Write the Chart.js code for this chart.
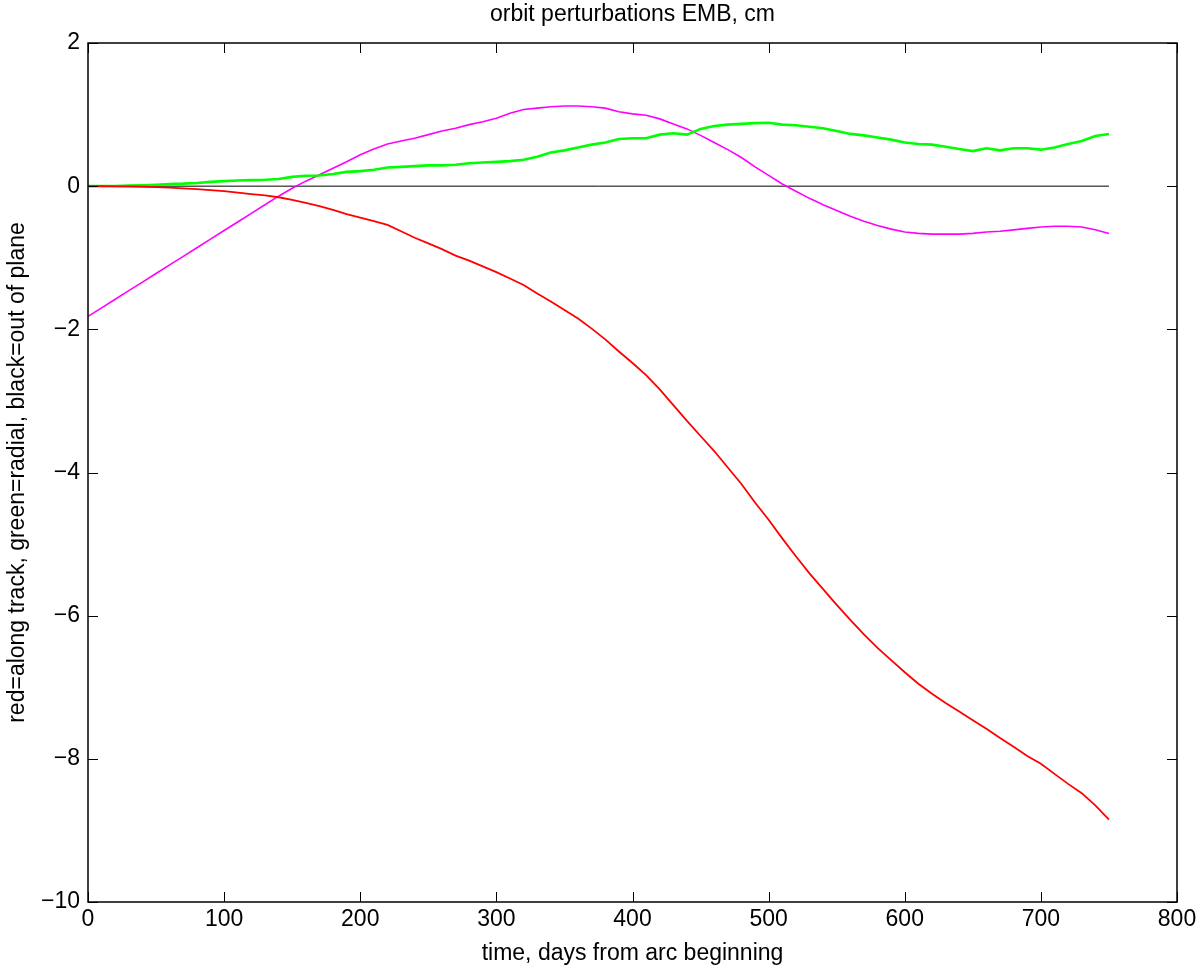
<!DOCTYPE html>
<html>
<head>
<meta charset="utf-8">
<script src="https://cdn.jsdelivr.net/npm/chart.js@4.4.1/dist/chart.umd.min.js"></script>
<style>
  html, body { margin: 0; padding: 0; background: #ffffff; }
  #c { display: block; }
</style>
</head>
<body>
<canvas id="c" width="1196" height="967"></canvas>
<script>
const chartTitle = 'orbit perturbations EMB, cm';
const xLabel = 'time, days from arc beginning';
const yLabel = 'red=along track, green=radial, black=out of plane';

const xTicks = [0, 100, 200, 300, 400, 500, 600, 700, 800];
const yTicks = [2, 0, -2, -4, -6, -8, -10];

const days = [0,10,20,30,40,50,60,70,80,90,100,110,120,130,140,150,160,170,180,190,
  200,210,220,230,240,250,260,270,280,290,300,310,320,330,340,350,360,370,380,390,
  400,410,420,430,440,450,460,470,480,490,500,510,520,530,540,550,560,570,580,590,
  600,610,620,630,640,650,660,670,680,690,700,710,720,730,740,750];

const alongTrack = [0,0,-0.003,-0.005,-0.008,-0.012,-0.02,-0.03,-0.04,-0.055,
  -0.07,-0.09,-0.11,-0.13,-0.155,-0.19,-0.235,-0.28,-0.33,-0.39,
  -0.44,-0.49,-0.54,-0.63,-0.72,-0.8,-0.88,-0.97,-1.04,-1.12,
  -1.2,-1.29,-1.38,-1.50,-1.61,-1.73,-1.85,-1.99,-2.14,-2.31,
  -2.47,-2.64,-2.84,-3.06,-3.28,-3.49,-3.70,-3.93,-4.16,-4.42,
  -4.66,-4.92,-5.17,-5.41,-5.63,-5.85,-6.06,-6.26,-6.45,-6.62,
  -6.79,-6.95,-7.09,-7.22,-7.34,-7.46,-7.58,-7.71,-7.83,-7.96,
  -8.07,-8.21,-8.35,-8.48,-8.65,-8.85];

const radial = [0,0,0.003,0.008,0.012,0.02,0.03,0.035,0.045,0.06,
  0.07,0.08,0.085,0.09,0.1,0.13,0.145,0.15,0.17,0.2,
  0.21,0.23,0.26,0.27,0.28,0.29,0.29,0.3,0.32,0.33,
  0.34,0.35,0.37,0.41,0.47,0.5,0.54,0.58,0.61,0.66,
  0.67,0.67,0.72,0.74,0.72,0.8,0.84,0.86,0.87,0.88,
  0.885,0.86,0.85,0.83,0.81,0.77,0.73,0.71,0.68,0.65,
  0.61,0.59,0.58,0.55,0.52,0.49,0.53,0.5,0.53,0.53,
  0.51,0.54,0.59,0.63,0.7,0.73];

const magenta = [-1.82,-1.70,-1.58,-1.46,-1.34,-1.22,-1.10,-0.98,-0.86,-0.74,
  -0.62,-0.50,-0.38,-0.26,-0.14,-0.03,0.07,0.16,0.25,0.34,
  0.44,0.52,0.59,0.63,0.67,0.72,0.77,0.81,0.86,0.90,
  0.95,1.02,1.07,1.09,1.11,1.12,1.12,1.11,1.09,1.04,
  1.01,0.99,0.94,0.87,0.80,0.71,0.61,0.51,0.40,0.27,
  0.15,0.03,-0.07,-0.17,-0.26,-0.34,-0.42,-0.49,-0.55,-0.60,
  -0.64,-0.66,-0.67,-0.67,-0.67,-0.66,-0.64,-0.63,-0.61,-0.59,
  -0.57,-0.56,-0.56,-0.57,-0.61,-0.66];

const outOfPlaneDays = [0, 750];
const outOfPlane = [0, 0];

function pts(xs, ys) { return xs.map((x, i) => ({ x: x, y: ys[i] })); }

const FONT = 'Liberation Sans, Arial, Helvetica, sans-serif';

const frame = {
  id: 'frame',
  afterDatasetsDraw(chart) {
    const ctx = chart.ctx, a = chart.chartArea;
    const xs = chart.scales.x, ys = chart.scales.y;
    const tl = 10;
    ctx.save();
    ctx.strokeStyle = '#000';
    ctx.lineWidth = 1.5;
    ctx.strokeRect(a.left, a.top, a.right - a.left, a.bottom - a.top);
    ctx.lineWidth = 1;
    ctx.beginPath();
    xTicks.forEach(v => {
      const p = Math.round(xs.getPixelForValue(v)) + 0.5;
      ctx.moveTo(p, a.bottom); ctx.lineTo(p, a.bottom - tl);
      ctx.moveTo(p, a.top); ctx.lineTo(p, a.top + tl);
    });
    yTicks.forEach(v => {
      const p = Math.round(ys.getPixelForValue(v)) + 0.5;
      ctx.moveTo(a.left, p); ctx.lineTo(a.left + tl, p);
      ctx.moveTo(a.right, p); ctx.lineTo(a.right - tl, p);
    });
    ctx.stroke();
    ctx.fillStyle = '#000';
    ctx.font = '23px ' + FONT;
    ctx.textAlign = 'center';
    ctx.textBaseline = 'middle';
    ctx.fillText(chartTitle, (a.left + a.right) / 2, 15);
    ctx.restore();
  }
};

new Chart(document.getElementById('c'), {
  type: 'line',
  data: {
    datasets: [
      { label: 'along track', data: pts(days, alongTrack), borderColor: '#ff0000', borderWidth: 1.8 },
      { label: 'radial', data: pts(days, radial), borderColor: '#00ff00', borderWidth: 2.6 },
      { label: 'magenta', data: pts(days, magenta), borderColor: '#ff00ff', borderWidth: 1.6 },
      { label: 'out of plane', data: pts(outOfPlaneDays, outOfPlane), borderColor: '#000000', borderWidth: 1 }
    ]
  },
  options: {
    responsive: false,
    animation: false,
    devicePixelRatio: 1,
    layout: { padding: { top: 43, right: 19, left: 0, bottom: 0 } },
    elements: { point: { radius: 0 }, line: { tension: 0 } },
    plugins: { legend: { display: false }, tooltip: { enabled: false }, title: { display: false } },
    scales: {
      x: {
        type: 'linear', min: 0, max: 800,
        afterBuildTicks: s => { s.ticks = xTicks.map(v => ({ value: v })); },
        afterFit: s => { s.height = 65; s.paddingLeft = 0; s.paddingRight = 0; },
        grid: { display: false, drawTicks: false },
        border: { display: false },
        ticks: { color: '#000', font: { family: FONT, size: 23 }, padding: 4, maxRotation: 0, autoSkip: false },
        title: { display: true, text: xLabel, color: '#000', font: { family: FONT, size: 23 }, padding: { top: 0, bottom: 0 } }
      },
      y: {
        type: 'linear', min: -10, max: 2,
        afterBuildTicks: s => { s.ticks = yTicks.map(v => ({ value: v })); },
        afterFit: s => { s.width = 88; s.paddingTop = 0; s.paddingBottom = 0; },
        grid: { display: false, drawTicks: false },
        border: { display: false },
        ticks: { color: '#000', font: { family: FONT, size: 23 }, padding: 8, autoSkip: false,
                 callback: v => (v < 0 ? '\u2212' + Math.abs(v) : String(v)) },
        title: { display: true, text: yLabel, color: '#000', font: { family: FONT, size: 23 }, padding: { top: 4, bottom: 0 } }
      }
    }
  },
  plugins: [frame]
});
</script>
</body>
</html>
